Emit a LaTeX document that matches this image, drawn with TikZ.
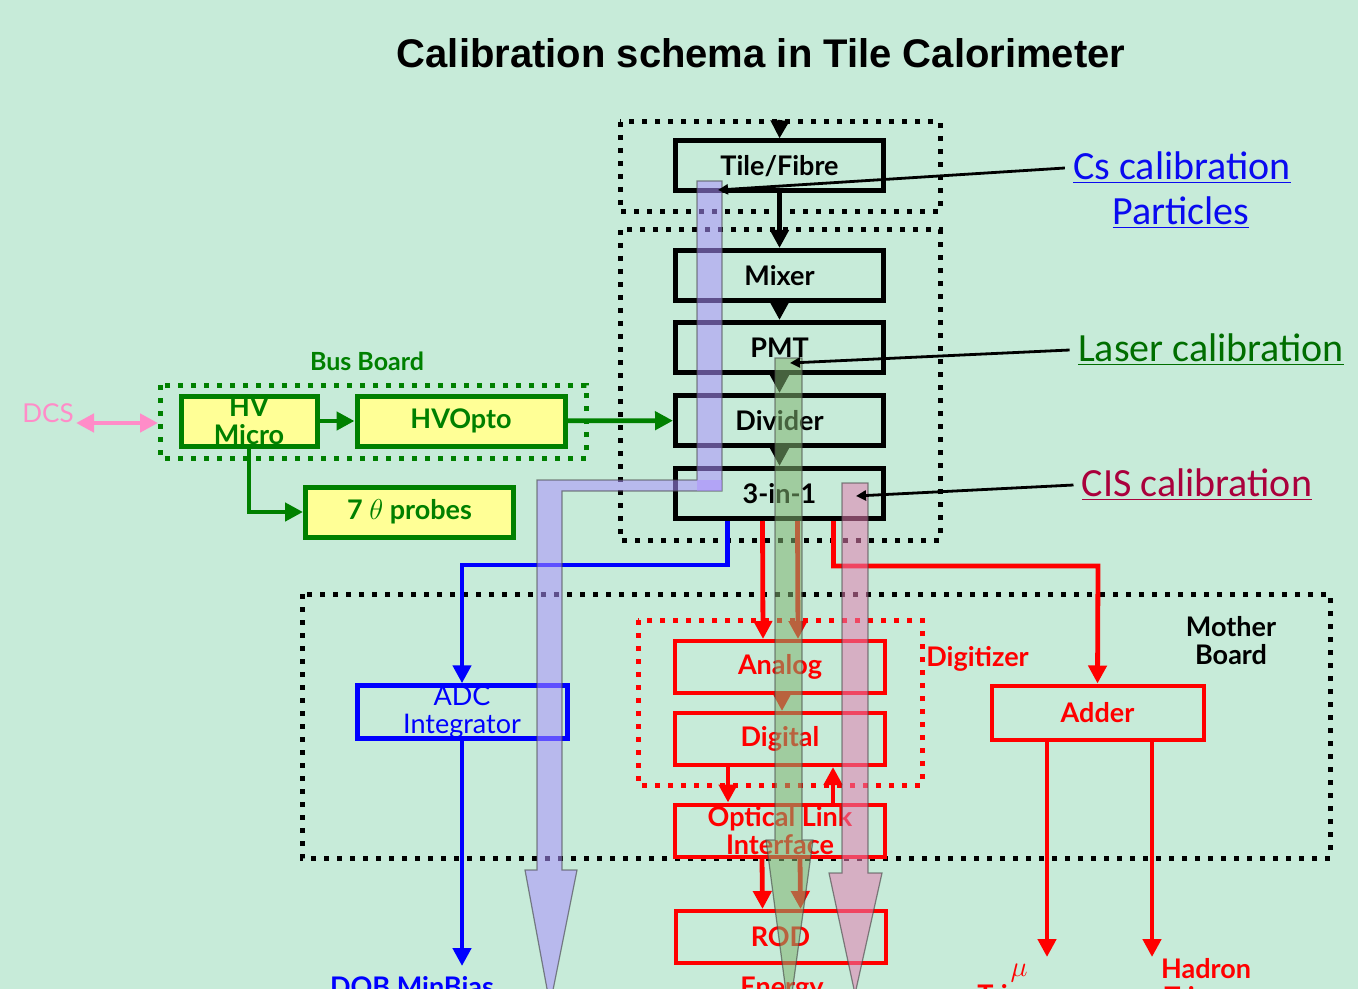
\documentclass[tikz,border=0pt]{standalone}
\usepackage{fontspec}
\setmainfont{Lato}
\newfontfamily\calfont{Carlito}
\newfontfamily\titlefont{Liberation Sans}
\usetikzlibrary{arrows.meta, positioning}
\definecolor{colFond}{RGB}{199,235,217}
\definecolor{colJaune}{RGB}{255,255,150}
\definecolor{colVert}{RGB}{0,128,0}
\definecolor{colRouge}{RGB}{255,0,0}
\definecolor{colBleu}{RGB}{0,0,255}
\definecolor{colRose}{RGB}{255,140,200}
\definecolor{colCs}{RGB}{10,10,240}
\definecolor{colLaser}{RGB}{0,110,0}
\definecolor{colCIS}{RGB}{170,0,60}
\definecolor{bandCs}{RGB}{173,144,255}
\definecolor{bandLaser}{RGB}{128,180,113}
\definecolor{bandCIS}{RGB}{228,126,177}

\begin{document}
\begin{tikzpicture}[
  x=0.5pt, y=-0.5pt,
  >={Triangle[length=9pt, width=9pt]},
  txt/.style={font=\fontsize{13.5}{14}\selectfont\bfseries, inner sep=0pt, align=center},
  blkbox/.style={txt, draw=black, line width=2.5pt, minimum width=104pt, minimum height=25pt},
  grnbox/.style={txt, draw=colVert, fill=colJaune, text=colVert, line width=2.5pt,
                 minimum width=#1, minimum height=25pt},
  redbox/.style={txt, draw=colRouge, text=colRouge, line width=2pt,
                 minimum width=105pt, minimum height=26pt},
  dotframe/.style={draw=#1, line width=2.5pt, dash pattern=on 2.5pt off 4pt},
  conn/.style={->, line width=2.4pt, draw=#1},
  band/.style={fill=#1, fill opacity=0.55, draw=black!75, draw opacity=0.6, line width=0.6pt},
  ptr/.style={-{Triangle[length=5pt, width=5pt]}, line width=1.4pt},
  callab/.style={font=\calfont\fontsize{20}{24}\selectfont, text=#1, inner sep=4pt}
]

% ---------- Fond et titre ----------
\useasboundingbox (0,0) rectangle (1358,989);
\fill[colFond] (0,0) rectangle (1358,989);
\clip (0,0) rectangle (1358,989);
\node[font=\titlefont\bfseries\fontsize{20}{24}\selectfont] (title) at (761,53)
  {Calibration schema in Tile Calorimeter};

% ---------- Cadres pointillés ----------
\draw[dotframe=black] (620,122) rectangle (940,212);
\draw[dotframe=black] (620,230) rectangle (940,540);
\draw[dotframe=black] (302,594) rectangle (1330,858);
\draw[dotframe=colRouge] (638,620) rectangle (922,785);
\draw[dotframe=colVert] (160,385) rectangle (586,458);

% ---------- Chaîne du module ----------
\node[blkbox] (tile) at (779.5,166) {Tile/Fibre};
\node[blkbox] (mixer) at (779.5,275.5) {Mixer};
\node[blkbox] (pmt) at (779.5,347.5) {PMT};
\node[blkbox] (divider) at (779.5,420.5) {Divider};
\node[blkbox] (three) at (779.5,493.5) {3-in-1};

\coordinate (tfin) at (780,120);
\draw[conn=black] (tfin) -- (tile.north);
\draw[conn=black] (tile.south) -- (mixer.north);
\draw[conn=black] (mixer.south) -- (pmt.north);
\draw[conn=black] (pmt.south) -- (divider.north);
\draw[conn=black] (divider.south) -- (three.north);

% ---------- Bus Board ----------
\node[grnbox=68pt] (hv) at (249,421) {HV\\Micro};
\node[grnbox=104pt] (hvopto) at (461,421) {HVOpto};
\node[grnbox=104pt] (probes) at (409.5,512) {7 $\theta$ probes};
\node[txt, text=colVert, font=\fontsize{12.5}{14}\selectfont\bfseries] (buslab) at (367,361) {Bus Board};
\node[text=colRose, font=\fontsize{13}{14}\selectfont, inner sep=1pt] (dcs) at (48,413) {DCS};
\coordinate (busw) at (158,423);
\draw[<->, line width=2.4pt, colRose] ([yshift=-5pt]dcs.east) -- (busw);
\draw[conn=colVert] (hv) -- (hvopto);
\draw[conn=colVert] (hvopto) -- (divider);
\draw[conn=colVert] (hv.south) |- (probes.west);

% ---------- Mother Board ----------
\node[redbox] (analog) at (780,667) {Analog};
\node[redbox] (digital) at (780,739) {Digital};
\node[redbox] (oli) at (780,830.5) {Optical Link\\Interface};
\node[redbox] (rod) at (780.5,937) {ROD};
\node[redbox, minimum width=106pt, minimum height=27pt] (adder) at (1097.5,712.5) {Adder};
\node[redbox, draw=colBleu, text=colBleu, line width=2.5pt, font=\fontsize{13.5}{14}\selectfont]
  (adc) at (462,712) {ADC\\Integrator};
\node[txt] (mblab) at (1231,641) {Mother\\Board};
\node[txt, text=colRouge, anchor=west] (diglab) at (926,659) {Digitizer};

\coordinate (bturn) at (462,565);
\coordinate (rturn) at (1098,566);
\draw[conn=colBleu] ([xshift=-26pt]three.south) |- (bturn) -- (adc.north);
\draw[conn=colRouge] ([xshift=-8.5pt]three.south) -- ([xshift=-8.5pt]analog.north);
\draw[conn=colRouge] ([xshift=9pt]three.south) -- ([xshift=9pt]analog.north);
\draw[conn=colRouge] ([xshift=27pt]three.south) |- (rturn) -- (adder.north);
\draw[conn=colRouge] ([xshift=1pt]analog.south) -- ([xshift=1pt]digital.north);
\draw[conn=colRouge] ([xshift=-26pt]digital.south) -- ([xshift=-26pt]oli.north);
\draw[conn=colRouge] ([xshift=26.5pt]oli.north) -- ([xshift=26.5pt]digital.south);
\draw[conn=colRouge] ([xshift=-9pt]oli.south) -- ([xshift=-9pt]rod.north);
\draw[conn=colRouge] ([xshift=10pt]oli.south) -- ([xshift=10pt]rod.north);

% ---------- Sorties ----------
\coordinate (adcout) at (462,966);
\coordinate (mutip) at (1047,957);
\coordinate (hadtip) at (1152,957);
\draw[conn=colBleu] (adc.south) -- (adcout);
\draw[conn=colRouge] (adder.south -| mutip) -- (mutip);
\draw[conn=colRouge] (adder.south -| hadtip) -- (hadtip);
\node[txt, text=colBleu, anchor=north] (minbias) at (412,976) {DQB MinBias};
\node[txt, text=colRouge, anchor=north] (energy) at (782,977) {Energy};
\node[txt, text=colRouge, anchor=north] (mutrig) at (1019,964) {$\mu$\\Trigger};
\node[txt, text=colRouge, anchor=north] (hadtrig) at (1206,958) {Hadron\\Trigger};

% ---------- Bandes de calibration ----------
\path[band=bandCs] (697,181) -- (722,181) -- (722,491) -- (562,491) -- (562,870)
  -- (577,870) -- (550,1005) -- (525,870) -- (537,870) -- (537,480) -- (697,480) -- cycle;
\fill[bandCs, opacity=0.5] (697,480) rectangle (722,491);
\path[band=bandLaser] (775,358) -- (802,358) -- (802,840) -- (813,840) -- (789,1015)
  -- (766,840) -- (775,840) -- cycle;
\path[band=bandCIS] (842,483) -- (868,483) -- (868,873) -- (882,873) -- (855,994)
  -- (829,873) -- (842,873) -- cycle;

% ---------- Etiquettes des calibrations ----------
\node[callab=colCs] (cslab) at (1182,168) {\underline{Cs calibration}};
\node[callab=colCs] (partlab) at (1181,213) {\underline{Particles}};
\node[callab=colLaser] (laserlab) at (1211,350) {\underline{Laser calibration}};
\node[callab=colCIS] (cislab) at (1197,485) {\underline{CIS calibration}};
\coordinate (cstip) at (718,190);
\coordinate (lasertip) at (790,363);
\coordinate (cistip) at (856,496);
\draw[ptr] (cslab.west) -- (cstip);
\draw[ptr] (laserlab.west) -- (lasertip);
\draw[ptr] (cislab.west) -- (cistip);

\end{tikzpicture}
\end{document}
